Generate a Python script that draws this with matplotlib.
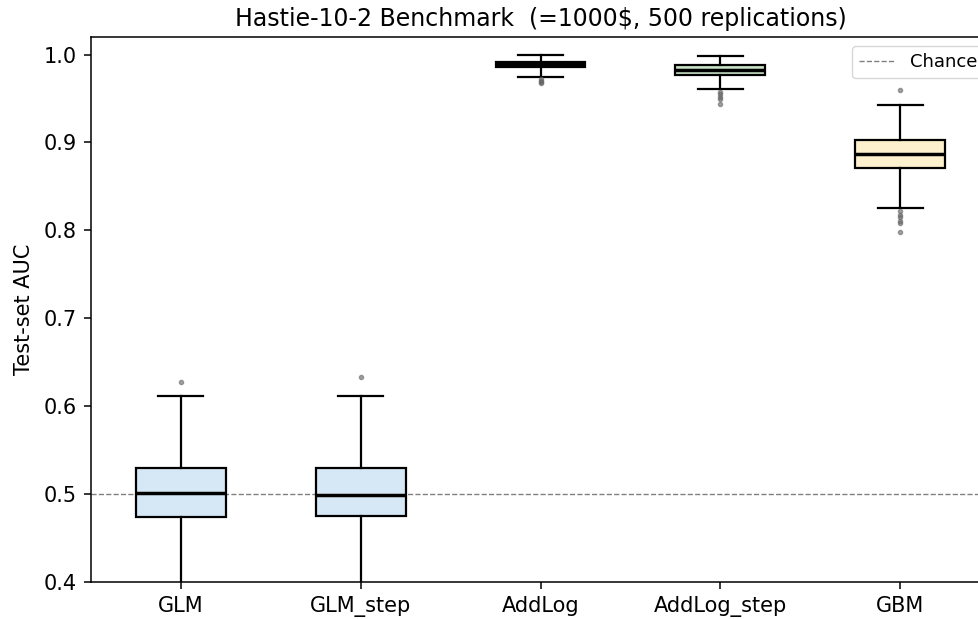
import matplotlib
matplotlib.use('Agg')
import matplotlib.pyplot as plt

# Five-number summaries
models = ['GLM', 'GLM_step', 'AddLog', 'AddLog_step', 'GBM']
medians = [0.501, 0.499, 0.989, 0.983, 0.887]
q1s = [0.474, 0.475, 0.986, 0.977, 0.871]
q3s = [0.530, 0.530, 0.992, 0.988, 0.903]
whis_lo = [0.390, 0.390, 0.975, 0.961, 0.825]
whis_hi = [0.612, 0.612, 0.999, 0.998, 0.943]
outliers = [
    [0.627],
    [0.633],
    [0.972, 0.970, 0.969, 0.968],
    [0.958, 0.955, 0.952, 0.950, 0.944],
    [0.960, 0.822, 0.818, 0.815, 0.811, 0.808, 0.798],
]
box_colors = ['#d6e8f5', '#d6e8f5', '#f4d4d0', '#c8e2c6', '#fdf0cc']

fig = plt.figure(figsize=(9.79, 6.19), dpi=100)
# axes run slightly past the right edge like the cropped original
ax = fig.add_axes([91 / 979, 37 / 619, 899 / 979, 545 / 619])

stats = []
for i, name in enumerate(models):
    stats.append({
        'label': name,
        'med': medians[i],
        'q1': q1s[i],
        'q3': q3s[i],
        'whislo': whis_lo[i],
        'whishi': whis_hi[i],
        'fliers': outliers[i],
    })

bp = ax.bxp(stats, widths=0.5, patch_artist=True, capwidths=0.25,
            boxprops=dict(linewidth=1.6, edgecolor='black'),
            medianprops=dict(color='black', linewidth=2.5),
            whiskerprops=dict(color='black', linewidth=1.6),
            capprops=dict(color='black', linewidth=1.6),
            flierprops=dict(marker='o', markersize=3, markerfacecolor='#666666',
                            markeredgecolor='#666666', alpha=0.6))
for patch, c in zip(bp['boxes'], box_colors):
    patch.set_facecolor(c)

ax.axhline(0.5, color='gray', linestyle='--', linewidth=1, label='Chance', zorder=0)

ax.set_ylim(0.4, 1.02)
ax.set_xlim(0.5, 5.5)
ax.set_ylabel('Test-set AUC', fontsize=15, labelpad=7)
ax.set_title('Hastie-10-2 Benchmark  (=1000\\$, 500 replications)', fontsize=17, pad=8)
ax.tick_params(labelsize=15, length=5, pad=5, width=1.1)
for spine in ax.spines.values():
    spine.set_linewidth(1.1)
ax.legend(loc='upper right', fontsize=13, bbox_to_anchor=(1 + 3.5 / 899, 1))

fig.savefig('out.png', dpi=100)
